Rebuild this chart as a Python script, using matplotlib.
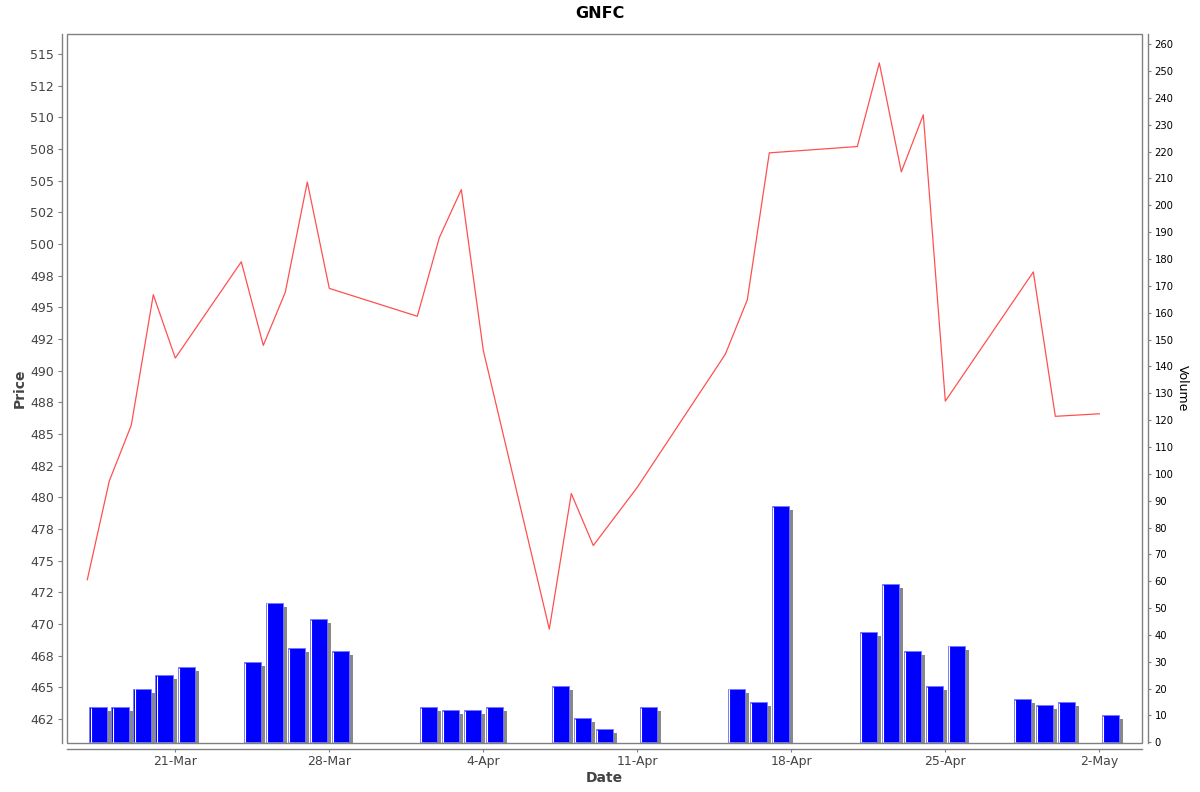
import numpy as np
import matplotlib
matplotlib.use("Agg")
import matplotlib.pyplot as plt
import matplotlib.dates as mdates
import matplotlib.transforms as mtransforms
from matplotlib.patches import Rectangle
import datetime as dt

# ---- data ----
price_dates = ["2025-03-17", "2025-03-18", "2025-03-19", "2025-03-20", "2025-03-21",
               "2025-03-24", "2025-03-25", "2025-03-26", "2025-03-27", "2025-03-28",
               "2025-04-01", "2025-04-02", "2025-04-03", "2025-04-04",
               "2025-04-07", "2025-04-08", "2025-04-09", "2025-04-11",
               "2025-04-15", "2025-04-16", "2025-04-17",
               "2025-04-21", "2025-04-22", "2025-04-23", "2025-04-24", "2025-04-25",
               "2025-04-29", "2025-04-30", "2025-05-02"]
prices = [473.5, 481.3, 485.7, 496.0, 491.0,
          498.6, 492.0, 496.2, 504.9, 496.5,
          494.3, 500.5, 504.3, 491.6,
          469.6, 480.3, 476.2, 480.8,
          491.3, 495.6, 507.2,
          507.7, 514.3, 505.7, 510.2, 487.6,
          497.8, 486.4, 486.6]

volume_dates = ["2025-03-17", "2025-03-18", "2025-03-19", "2025-03-20", "2025-03-21",
                "2025-03-24", "2025-03-25", "2025-03-26", "2025-03-27", "2025-03-28",
                "2025-04-01", "2025-04-02", "2025-04-03", "2025-04-04",
                "2025-04-07", "2025-04-08", "2025-04-09", "2025-04-11",
                "2025-04-15", "2025-04-16", "2025-04-17",
                "2025-04-21", "2025-04-22", "2025-04-23", "2025-04-24", "2025-04-25",
                "2025-04-28", "2025-04-29", "2025-04-30", "2025-05-02"]
volumes = [13, 13, 20, 25, 28,
           30, 52, 35, 46, 34,
           13, 12, 12, 13,
           21, 9, 5, 13,
           20, 15, 88,
           41, 59, 34, 21, 36,
           16, 14, 15, 10]

title = "GNFC"
price_ticks = [462.5 + 2.5 * i for i in range(22)]
volume_ticks = list(range(0, 261, 10))

# ---- figure ----
fig = plt.figure(figsize=(12, 7.92), dpi=100)
ax = fig.add_axes([67.3 / 1200, 1 - 743 / 792, (1142 - 67.3) / 1200, (743 - 34.3) / 792])
ax2 = ax.twinx()

pd_num = mdates.date2num([dt.datetime.strptime(d, "%Y-%m-%d") for d in price_dates])
vd_num = mdates.date2num([dt.datetime.strptime(d, "%Y-%m-%d") for d in volume_dates])
vol = np.array(volumes, dtype=float)

gray = "#808080"
txt = "#444444"

# volume bars: shadow, bar, highlight stripe
shadow_tr = mtransforms.offset_copy(ax2.transData, fig=fig, x=4, y=-4, units="dots")
ax2.bar(vd_num + 0.5, vol, width=0.8, color="#888888", linewidth=0,
        transform=shadow_tr, zorder=1)
ax2.bar(vd_num + 0.5, vol, width=0.8, color="#0000ff", edgecolor="#7777ff",
        linewidth=0.6, zorder=2)
ax2.vlines(vd_num + 0.19, 0, vol - 0.3, colors="white", linewidth=0.8, zorder=3)

# price line
ax.plot(pd_num, prices, color="#ff5050", linewidth=0.9, zorder=5)
ax.set_zorder(ax2.get_zorder() + 1)
ax.patch.set_visible(False)

x0 = mdates.date2num(dt.datetime(2025, 3, 21))
ax.set_xlim(x0 - 4.909, x0 + 43.94)
ax.set_ylim(460.61, 516.56)
ax2.set_ylim(-0.26, 263.7)

ax.xaxis.set_major_locator(mdates.WeekdayLocator(byweekday=mdates.FR))
ax.xaxis.set_major_formatter(mdates.DateFormatter("%-d-%b"))

ax.set_yticks(price_ticks)
ax.set_yticklabels([f"{v:.0f}" for v in price_ticks])
ax2.set_yticks(volume_ticks)

for s in ["top", "right"]:
    ax.spines[s].set_visible(False)
for s in ["top", "left", "bottom"]:
    ax2.spines[s].set_visible(False)
ax.spines["left"].set_position(("outward", 4))
ax.spines["bottom"].set_position(("outward", 4))
ax2.spines["right"].set_position(("outward", 4.5))
for sp in [ax.spines["left"], ax.spines["bottom"], ax2.spines["right"]]:
    sp.set_color(gray)
    sp.set_linewidth(1.0)

ax.tick_params(axis="y", direction="out", length=3.2, width=0.8, color=gray,
               pad=2.5, labelsize=9, labelcolor=txt)
ax.tick_params(axis="x", direction="out", length=2.5, width=0.8, color=gray,
               pad=2.2, labelsize=9, labelcolor=txt)
ax2.tick_params(axis="y", direction="out", length=2, width=0.8, color=gray,
                pad=2.5, labelsize=7.2, labelcolor="black")

frame = Rectangle((0, 0), 1, 1, transform=ax.transAxes, fill=False,
                  edgecolor=gray, linewidth=1.0, zorder=10, clip_on=False)
ax.add_patch(frame)

ax.set_xlabel("Date", fontsize=10, fontweight="bold", color=txt, labelpad=2)
ax.set_ylabel("Price", fontsize=10, fontweight="bold", color=txt, labelpad=2)
ax2.set_ylabel("Volume", fontsize=9, color="black", rotation=270, labelpad=11)

fig.text(0.5, 1 - 13.5 / 792, title, ha="center", va="center",
         fontsize=11.5, fontweight="bold", color="black")

fig.savefig("out.png", dpi=100, facecolor="white")
